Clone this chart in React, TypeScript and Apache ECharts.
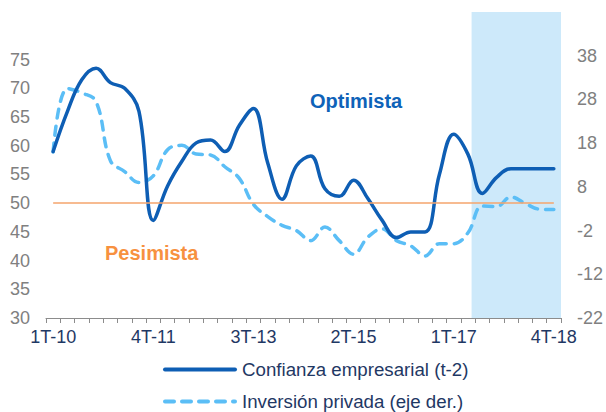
import React, { useEffect, useRef } from "react";
import * as echarts from "echarts";

const categories: string[] = [
  "1T-10", "2T-10", "3T-10", "4T-10",
  "1T-11", "2T-11", "3T-11", "4T-11",
  "1T-12", "2T-12", "3T-12", "4T-12",
  "1T-13", "2T-13", "3T-13", "4T-13",
  "1T-14", "2T-14", "3T-14", "4T-14",
  "1T-15", "2T-15", "3T-15", "4T-15",
  "1T-16", "2T-16", "3T-16", "4T-16",
  "1T-17", "2T-17", "3T-17", "4T-17",
  "1T-18", "2T-18", "3T-18", "4T-18",
];

const confianza: number[] = [
  59, 66, 71.5, 73.5, 71, 70, 66, 47,
  53, 57.3, 60.5, 61, 59, 63.5, 66.5, 57,
  50.7, 56.5, 58.2, 52.5, 51.2, 54, 50.8, 47,
  44, 45, 45, 55, 62, 58.5, 51.7, 54.5,
  56, 56, 56, 56,
];

const inversion: number[] = [
  16, 30.5, 29.5, 27.5, 14, 11.5, 9, 10.5,
  16.5, 17.5, 15.5, 15.3, 12.6, 10, 4, 1.2,
  -0.8, -2, -4.3, -1.2, -4.3, -7.4, -3.5, -1.6,
  -4.3, -5.5, -7.8, -5, -5, -2.5, 3.6, 3.5,
  5.7, 4.2, 2.9, 2.8,
];

const leftTicks = { min: 30, maxLabel: 75, interval: 5 };
const rightTicks = { min: -22, maxLabel: 38, interval: 10 };
const threshold = 50;
const forecastStart = "3T-17";

const NAME_CONF = "Confianza empresarial (t-2)";
const NAME_INV = "Inversión privada (eje der.)";

const FONT = "Arial, 'Liberation Sans', sans-serif";

const legendBase = {
  orient: "horizontal",
  left: 158,
  itemWidth: 70,
  itemHeight: 14,
  textStyle: {
    fontSize: 18.7,
    color: "#1F3864",
    fontFamily: FONT,
    padding: [0, 0, 0, 2],
  },
  itemStyle: { color: "rgba(0,0,0,0)", borderColor: "rgba(0,0,0,0)", borderWidth: 0 },
  lineStyle: { width: 4, cap: "round" },
};

export default function App() {
  const ref = useRef<HTMLDivElement>(null);

  useEffect(() => {
    document.body.style.margin = "0";
    if (!ref.current) return;
    const chart = echarts.init(ref.current, undefined, { renderer: "svg" });

    const startIdx = categories.indexOf(forecastStart);

    chart.setOption({
      animation: false,
      textStyle: { fontFamily: FONT },
      grid: { left: 46, right: 44, top: 12, bottom: 94, containLabel: false },
      legend: [
        { ...legendBase, top: 355, data: [NAME_CONF] },
        { ...legendBase, top: 387, data: [NAME_INV] },
      ],
      xAxis: [
        {
          type: "category",
          data: categories,
          boundaryGap: true,
          axisLine: { onZero: false, lineStyle: { color: "#8C8C8C", width: 1 } },
          axisTick: { show: true, interval: 0, length: 5, lineStyle: { color: "#8C8C8C" } },
          axisLabel: {
            interval: 6,
            color: "#1F3864",
            fontSize: 18,
            fontFamily: FONT,
            margin: 10,
          },
          splitLine: { show: false },
        },
        {
          type: "value",
          min: 0,
          max: categories.length,
          show: false,
          axisLine: { show: false, onZero: false },
          axisTick: { show: false },
          axisLabel: { show: false },
          splitLine: { show: false },
        },
      ],
      yAxis: [
        {
          type: "value",
          min: leftTicks.min,
          max: 83.3,
          interval: leftTicks.interval,
          axisLine: { show: false },
          axisTick: { show: false },
          splitLine: { show: false },
          axisLabel: {
            color: "#808080",
            fontSize: 18,
            fontFamily: FONT,
            margin: 16,
            formatter: (v: number) => (v <= leftTicks.maxLabel ? String(v) : ""),
          },
        },
        {
          type: "value",
          min: rightTicks.min,
          max: 48,
          interval: rightTicks.interval,
          position: "right",
          axisLine: { show: false, onZero: false },
          axisTick: { show: false },
          splitLine: { show: false },
          axisLabel: {
            color: "#808080",
            fontSize: 18,
            fontFamily: FONT,
            margin: 16,
            formatter: (v: number) => (v <= rightTicks.maxLabel ? String(v) : ""),
          },
        },
      ],
      graphic: [
        {
          type: "text",
          left: 310,
          top: 91,
          z: 10,
          style: {
            text: "Optimista",
            fill: "#0E62B8",
            font: `bold 20px ${FONT}`,
          },
        },
        {
          type: "text",
          left: 105,
          top: 243,
          z: 10,
          style: {
            text: "Pesimista",
            fill: "#F7913F",
            font: `bold 20px ${FONT}`,
          },
        },
      ],
      series: [
        {
          name: "forecast",
          type: "line",
          xAxisIndex: 1,
          yAxisIndex: 0,
          data: [],
          silent: true,
          z: 0,
          markArea: {
            silent: true,
            itemStyle: { color: "#CDE9FA" },
            data: [[{ xAxis: startIdx - 0.25 }, { xAxis: categories.length + 0.1 }]],
          },
        },
        {
          name: NAME_INV,
          type: "line",
          xAxisIndex: 0,
          yAxisIndex: 1,
          data: inversion,
          symbol: "none",
          smooth: 0.4,
          z: 3,
          lineStyle: { color: "#5BBEF6", width: 3.5, type: [9, 8], cap: "round" },
          itemStyle: { color: "#5BBEF6" },
        },
        {
          name: NAME_CONF,
          type: "line",
          xAxisIndex: 0,
          yAxisIndex: 0,
          data: confianza,
          symbol: "none",
          smooth: 0.4,
          z: 4,
          lineStyle: { color: "#0E5EB4", width: 3.5, cap: "round", join: "round" },
          itemStyle: { color: "#0E5EB4" },
          markLine: {
            silent: true,
            symbol: "none",
            label: { show: false },
            lineStyle: { color: "#F4A46C", width: 1.5, type: "solid" },
            data: [
              [
                { coord: [categories[0], threshold] },
                { coord: [categories[categories.length - 1], threshold] },
              ],
            ],
          },
        },
      ],
    });

    return () => chart.dispose();
  }, []);

  return <div ref={ref} style={{ width: 606, height: 412 }} />;
}
